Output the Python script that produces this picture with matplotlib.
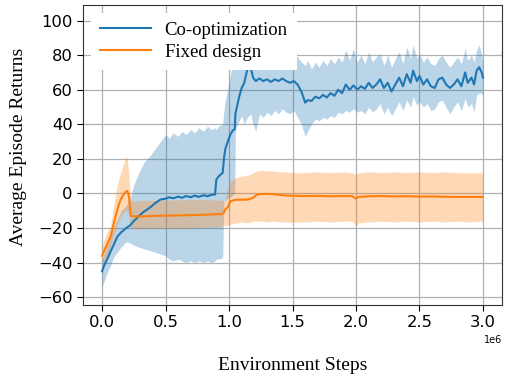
import matplotlib
matplotlib.use("Agg")
import matplotlib.pyplot as plt
import numpy as np

# ---- data (environment steps in millions) ----
co_steps = [0.00, 0.02, 0.04, 0.07, 0.09, 0.12, 0.15, 0.19, 0.22, 0.25, 0.29, 0.33, 0.38, 0.42,
            0.46, 0.50, 0.53, 0.56, 0.60, 0.63, 0.66, 0.70, 0.73, 0.76, 0.80, 0.83, 0.86, 0.89,
            0.90, 0.92, 0.95, 0.96, 0.97, 0.99, 1.01, 1.03, 1.045, 1.05, 1.08, 1.10, 1.12, 1.145,
            1.17, 1.19, 1.21, 1.24, 1.27, 1.30, 1.33, 1.36, 1.39, 1.42, 1.45, 1.48, 1.51, 1.54,
            1.57, 1.60, 1.62, 1.65, 1.68, 1.71, 1.74, 1.77, 1.80, 1.83, 1.86, 1.89, 1.92, 1.95,
            1.98, 2.01, 2.04, 2.07, 2.10, 2.13, 2.16, 2.19, 2.22, 2.25, 2.28, 2.31, 2.34, 2.37,
            2.40, 2.43, 2.45, 2.48, 2.50, 2.53, 2.56, 2.59, 2.62, 2.65, 2.68, 2.71, 2.74, 2.77,
            2.80, 2.83, 2.86, 2.88, 2.91, 2.93, 2.95, 2.97, 2.99, 3.00]
co_mean = [-45, -41, -38, -33, -30, -25, -22.5, -20, -18.5, -16, -13, -10.5, -8, -5.5,
           -3.5, -3, -2.2, -2.8, -1.8, -2.5, -1.5, -2.2, -1.2, -2, -1, -1.6, -0.8, -0.6,
           8, 10, 12, 20, 25.5, 30, 34, 36.5, 37, 46, 56, 61, 64, 72,
           73, 67, 65, 66.5, 65, 66, 64.5, 66, 65, 66.5, 65, 64, 65, 63,
           59, 52.5, 54, 53.5, 56, 55, 57, 55.5, 58, 56.5, 60, 58, 63, 60,
           62.5, 60, 62, 60.5, 64, 61, 63, 66, 61, 64, 59, 63, 67, 62,
           69, 64, 71, 65, 68, 63, 66, 62, 61, 66, 67, 63, 61, 63,
           66, 62, 70, 64, 67, 63, 71, 73, 70, 67]
co_low = [-54, -50, -46, -41, -37, -34, -31, -28, -28.5, -30, -31, -32, -33, -34,
          -35, -36, -38, -39, -38, -39, -40, -39, -40, -39, -40, -39, -40, -39,
          -38, -38, -37, -4, -4, -3, -2, -1, 0, 37, 42, 45, 40, 44,
          46, 40, 36, 46, 44, 47, 45, 48, 46, 49, 47, 46, 48, 44,
          40, 33, 36, 40, 43, 42, 44, 43, 45, 44, 47, 46, 48, 47,
          49, 47, 48, 46, 50, 47, 49, 52, 46, 50, 45, 49, 53, 48,
          54, 50, 56, 51, 53, 50, 52, 48, 49, 53, 54, 50, 46, 50,
          53, 48, 55, 50, 52, 47, 57, 58, 58, 56]
co_high = [-38, -34, -30, -24, -20, -15, -10, -7, -3, 5, 12, 18, 22, 26,
           30, 34, 32, 35, 33, 36, 34, 37, 35, 38, 36, 39, 37, 38,
           37, 39, 40, 48, 54, 60, 69, 75, 80, 82, 84, 84, 86, 88,
           88, 86, 85, 84, 86, 85, 84, 86, 85, 84, 86, 82, 80, 79,
           76, 74, 77, 72, 76, 73, 77, 74, 78, 75, 79, 76, 83, 77,
           84, 76, 80, 75, 82, 76, 79, 81, 74, 80, 73, 78, 82, 75,
           85, 78, 86, 78, 81, 76, 79, 75, 74, 78, 80, 76, 73, 76,
           79, 75, 84, 77, 80, 76, 83, 86, 80, 76]

fx_steps = [0.00, 0.03, 0.068, 0.09, 0.107, 0.13, 0.147, 0.17, 0.186, 0.20, 0.212, 0.225,
            0.26, 0.30, 0.40, 0.50, 0.60, 0.70, 0.80, 0.90, 0.94, 0.96, 0.97, 0.99, 1.01,
            1.05, 1.10, 1.15, 1.19, 1.22, 1.26, 1.30, 1.35, 1.40, 1.45, 1.50, 1.60, 1.70,
            1.80, 1.90, 1.97, 2.00, 2.02, 2.10, 2.20, 2.30, 2.40, 2.50, 2.60, 2.70, 2.80,
            2.90, 3.00]
fx_mean = [-36, -31, -24.7, -18, -13, -7, -3.5, -0.5, 1, 1.4, -1.5, -13,
           -13.2, -13.3, -13, -12.8, -12.7, -12.5, -12.3, -12, -12, -11, -9.3, -8, -4.5,
           -3.7, -3.6, -3.5, -2.5, -0.6, -0.3, -0.2, -0.4, -0.8, -1.2, -1.3, -1.5, -1.4,
           -1.6, -1.5, -1.5, -3, -2, -1.6, -1.5, -1.7, -1.6, -1.8, -1.7, -1.9, -2,
           -2, -2]
fx_low = [-41, -37, -30, -25, -21, -16, -13, -11, -10, -10, -12, -20,
          -20, -20.5, -20, -20, -20, -20, -19.5, -19.5, -19, -18, -19, -18, -18,
          -17, -16.5, -17, -16, -16, -16, -16.5, -16, -16.5, -16.5, -16.5, -16.5, -16,
          -16.5, -16, -16, -19, -17, -16.5, -16, -16.5, -16, -16.5, -16, -16.5, -16,
          -16.5, -16]
fx_high = [-30, -24, -18, -8, 0, 8, 12, 17, 21.6, 20, 10, -4,
           -4.5, -4, -4, -3.8, -3.7, -3.6, -3.5, -3.8, -4, -4.5, -3, 3, 7,
           9, 10, 10.5, 12, 13, 13.5, 13, 13, 12.5, 12.5, 12, 12, 12.5,
           12, 12.5, 12, 11, 12, 12.5, 12, 12.5, 12, 12.5, 12, 12.5, 12,
           12, 12]

labels = ["Co-optimization", "Fixed design"]
y_ticks = [-60, -40, -20, 0, 20, 40, 60, 80, 100]
x_ticks = [0.0, 0.5, 1.0, 1.5, 2.0, 2.5, 3.0]

# ---- plot ----
fig = plt.figure(figsize=(5.06, 3.79), dpi=100)
ax = fig.add_axes([83/506, 1-305/379, (502-83)/506, 300/379])

blue = "#1f77b4"
orange = "#ff7f0e"
scale = 1e6
cx = np.array(co_steps) * scale
fxx = np.array(fx_steps) * scale

ax.fill_between(cx, co_low, co_high, color=blue, alpha=0.3, linewidth=0)
ax.fill_between(fxx, fx_low, fx_high, color=orange, alpha=0.3, linewidth=0)
ax.plot(cx, co_mean, color=blue, linewidth=1.5, label=labels[0])
ax.plot(fxx, fx_mean, color=orange, linewidth=1.5, label=labels[1])

ax.set_xlim(-0.15e6, 3.15e6)
ax.set_ylim(-64.5, 109)
ax.set_yticks(y_ticks)
ax.set_xticks(np.array(x_ticks) * scale)
ax.grid(True, color="#b0b0b0", linewidth=0.9)
ax.set_axisbelow(True)
ax.tick_params(labelsize=11.8, length=4)
ax.xaxis.get_offset_text().set_fontsize(7)
for s in ax.spines.values():
    s.set_color("#333333")

serif = ["Liberation Serif", "DejaVu Serif"]
ax.set_xlabel("Environment Steps", family=serif, fontsize=14, labelpad=19)
ax.set_ylabel("Average Episode Returns", family=serif, fontsize=14)
ax.yaxis.set_label_coords(-0.134, 0.528)

leg = ax.legend(loc="upper left", prop={"family": serif, "size": 13.5},
                frameon=True, framealpha=1, edgecolor="none", fancybox=False,
                borderaxespad=0.42, borderpad=0.48, labelspacing=0.25,
                handlelength=2.75, handletextpad=0.7)
leg.get_frame().set_linewidth(0)

fig.savefig("out.png", dpi=100)
